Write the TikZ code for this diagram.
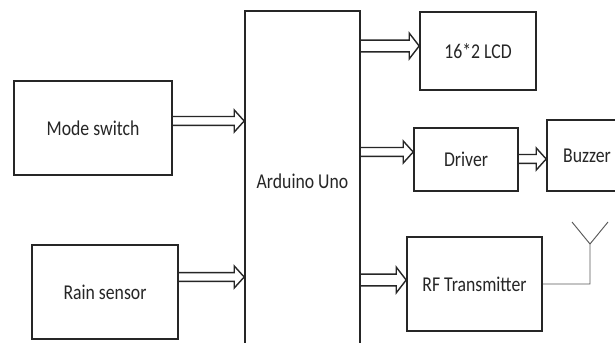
\documentclass[tikz,border=0pt]{standalone}
\usepackage{fontspec}
\setmainfont{Carlito}
\usetikzlibrary{calc}
\newcommand\sq[1]{\scalebox{0.84}[1]{#1}}
\newcommand\fatarrow[5]{% y, from, to, shaft half, head half
  \draw[fatarr] let \p1=(#2.east |- 0,#1), \p2=(#3.west |- 0,#1) in
    (\x1,\y1+#4) -- (\x2-8.5pt,\y1+#4) -- (\x2-8.5pt,\y1+#5) -- (\x2,\y1)
    -- (\x2-8.5pt,\y1-#5) -- (\x2-8.5pt,\y1-#4) -- (\x1,\y1-#4);}
\begin{document}
\begin{tikzpicture}[x=0.03cm,y=-0.03cm,
  blk/.style={draw=black!85,line width=1.4pt,fill=white,inner sep=0pt,
    font=\fontsize{18}{21}\selectfont, text=black!85},
  fatarr/.style={draw=black!85,line width=1.2pt,line join=miter},
  ant/.style={draw=black!65,line width=0.8pt}]
\clip (0,0) rectangle (615,343);
\fill[white] (0,0) rectangle (615,343);
\node[blk,minimum width=4.74cm,minimum height=2.82cm] (mode) at (93,128) {\sq{Mode switch}};
\node[blk,minimum width=4.38cm,minimum height=2.82cm] (rain) at (105,292) {\sq{Rain sensor}};
\node[blk,minimum width=3.45cm,minimum height=10.2cm] (ard) at (302.5,181) {\sq{Arduino Uno}};
\node[blk,minimum width=3.48cm,minimum height=2.34cm] (lcd) at (478,51) {\sq{16*2 LCD}};
\node[blk,minimum width=3.12cm,minimum height=1.89cm] (drv) at (466,159.5) {\sq{Driver}};
\node[blk,minimum width=2.4cm,minimum height=2.13cm] (buz) at (587,155.5) {\sq{Buzzer}};
\node[blk,minimum width=4.05cm,minimum height=2.82cm] (rf) at (474.5,284) {\sq{RF Transmitter}};
\fatarrow{121}{mode}{ard}{3.8pt}{9.4pt}
\fatarrow{277}{rain}{ard}{3.8pt}{9.4pt}
\fatarrow{46}{ard}{lcd}{5pt}{11pt}
\fatarrow{152}{ard}{drv}{3.8pt}{9.4pt}
\fatarrow{159}{drv}{buz}{3.8pt}{9.4pt}
\fatarrow{280}{ard}{rf}{5pt}{11pt}
\coordinate (abend) at (590,284);
\coordinate (abase) at (590,244);
\coordinate (aleft) at (572,222);
\coordinate (aright) at (608,222);
\draw[ant] (rf.east |- abend) -- (abend) -- (abase) -- (aleft);
\draw[ant] (abase) -- (aright);
\end{tikzpicture}
\end{document}
